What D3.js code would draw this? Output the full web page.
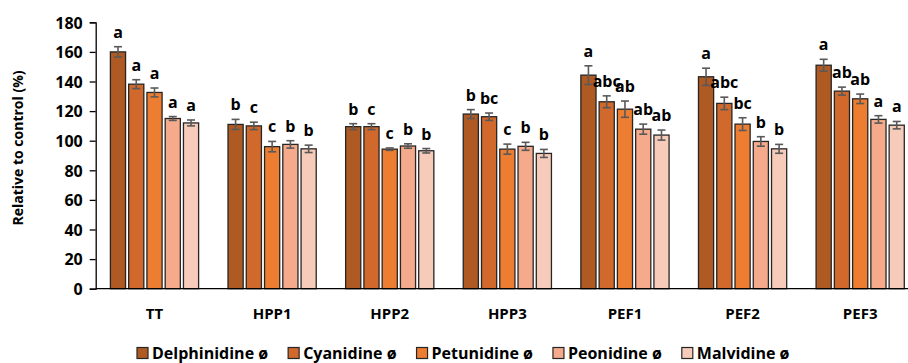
<!DOCTYPE html>
<html>
<head>
<meta charset="utf-8">
<script src="https://cdn.jsdelivr.net/npm/d3@7"></script>
<style>
  body { margin: 0; background: #fff; }
  text { font-family: "Open Sans", Lato, sans-serif; font-weight: bold; fill: #000; }
</style>
</head>
<body>
<div id="chart"></div>
<script>
//treatments on the x axis
var treatments = ["TT", "HPP1", "HPP2", "HPP3", "PEF1", "PEF2", "PEF3"];

//series names
var series = ["Delphinidine ø", "Cyanidine ø", "Petunidine ø", "Peonidine ø", "Malvidine ø"];
var colors = ["#ae5a22", "#d0692b", "#ed7d31", "#f4aa8b", "#f7cbb9"];

//values per series (one value per treatment)
var delphinidine = [160, 111, 109.5, 118, 144.3, 143.2, 151];
var cyanidine = [138.2, 110, 109.5, 116.2, 126.3, 125.2, 133.5];
var petunidine = [132.6, 96, 94.3, 94.3, 121.3, 111.2, 128.3];
var peonidine = [115, 97.5, 96.4, 96.2, 107.8, 99.5, 114.4];
var malvidine = [112, 94.5, 93.2, 91.4, 103.8, 94.5, 110.5];

//error bars
var errDelphinidine = [3.5, 3.4, 2, 3, 6.3, 5.8, 4];
var errCyanidine = [3, 2.5, 2, 2.5, 4, 4.2, 2.7];
var errPetunidine = [3, 3.5, 0.8, 3.4, 5.5, 4.3, 3.2];
var errPeonidine = [1.3, 2.5, 1.5, 2.7, 3.4, 3.2, 2.5];
var errMalvidine = [2, 2.5, 1.5, 2.7, 3.4, 3, 2.5];

//significance letters
var lblDelphinidine = ["a", "b", "b", "b", "a", "a", "a"];
var lblCyanidine = ["a", "c", "c", "bc", "abc", "abc", "ab"];
var lblPetunidine = ["a", "c", "c", "c", "ab", "bc", "ab"];
var lblPeonidine = ["a", "b", "b", "b", "ab", "b", "a"];
var lblMalvidine = ["a", "b", "b", "b", "ab", "b", "a"];

//y ticks
var yTicks = [0, 20, 40, 60, 80, 100, 120, 140, 160, 180];

var values = [delphinidine, cyanidine, petunidine, peonidine, malvidine];
var errors = [errDelphinidine, errCyanidine, errPetunidine, errPeonidine, errMalvidine];
var letters = [lblDelphinidine, lblCyanidine, lblPetunidine, lblPeonidine, lblMalvidine];

//build flat table for the bars
var dataBars = [];
treatments.forEach(function(t, i) {
  series.forEach(function(s, j) {
    dataBars.push({ treatment: t, serie: s, value: values[j][i], err: errors[j][i], label: letters[j][i], idx: j });
  });
});

var width = 908, height = 363;
var svg = d3.select("#chart").append("svg").attr("width", width).attr("height", height);

var x0 = d3.scaleBand().domain(treatments).range([95.7, 919]).paddingInner(0.25).paddingOuter(0.125);
var x1 = d3.scaleBand().domain(series).range([0, x0.bandwidth()]).paddingInner(0.17);
var y = d3.scaleLinear().domain([0, 180]).range([288.7, 22.3]);

//y axis
var yAxis = d3.axisLeft(y).tickValues(yTicks).tickSize(6).tickPadding(7);
var gy = svg.append("g").attr("transform", "translate(95.7,0)").call(yAxis);
gy.selectAll("text").style("font-size", "16px").attr("dy", "0.36em");
gy.selectAll("line").attr("stroke", "#000").attr("stroke-width", 1.3);
gy.select(".domain").attr("stroke", "#000").attr("stroke-width", 1.3);

//bars
svg.selectAll(".bar")
  .data(dataBars)
  .enter()
  .append("rect")
  .attr("class", "bar")
  .attr("x", function(d) { return x0(d.treatment) + x1(d.serie); })
  .attr("y", function(d) { return y(d.value); })
  .attr("width", x1.bandwidth())
  .attr("height", function(d) { return y(0) - y(d.value); })
  .attr("fill", function(d) { return colors[d.idx]; })
  .attr("stroke", "#262626")
  .attr("stroke-width", 1.3);

//x axis line
svg.append("line")
  .attr("x1", 95.7).attr("x2", width)
  .attr("y1", y(0)).attr("y2", y(0))
  .attr("stroke", "#000").attr("stroke-width", 1.3);

//error bars
var errG = svg.selectAll(".err").data(dataBars).enter().append("g").attr("class", "err")
  .attr("transform", function(d) { return "translate(" + (x0(d.treatment) + x1(d.serie) + x1.bandwidth() / 2) + ",0)"; });
errG.append("line")
  .attr("y1", function(d) { return y(d.value - d.err); })
  .attr("y2", function(d) { return y(d.value + d.err); });
errG.append("line")
  .attr("x1", -4).attr("x2", 4)
  .attr("y1", function(d) { return y(d.value + d.err); })
  .attr("y2", function(d) { return y(d.value + d.err); });
errG.append("line")
  .attr("x1", -4).attr("x2", 4)
  .attr("y1", function(d) { return y(d.value - d.err); })
  .attr("y2", function(d) { return y(d.value - d.err); });
errG.selectAll("line").attr("stroke", "#595959").attr("stroke-width", 1.6);

//letters
svg.selectAll(".lbl")
  .data(dataBars)
  .enter()
  .append("text")
  .attr("class", "lbl")
  .attr("x", function(d) { return x0(d.treatment) + x1(d.serie) + x1.bandwidth() / 2; })
  .attr("y", function(d) { return y(d.value + d.err) - 9; })
  .attr("text-anchor", "middle")
  .style("font-size", "16px")
  .text(function(d) { return d.label; });

//category labels
svg.selectAll(".cat")
  .data(treatments)
  .enter()
  .append("text")
  .attr("class", "cat")
  .attr("x", function(d) { return x0(d) + x0.bandwidth() / 2; })
  .attr("y", 319)
  .attr("text-anchor", "middle")
  .style("font-size", "15px")
  .text(function(d) { return d; });

//y axis title
svg.append("text")
  .attr("transform", "translate(23,148) rotate(-90)")
  .attr("text-anchor", "middle")
  .style("font-size", "14px")
  .text("Relative to control (%)");

//legend
var legend = svg.append("g").attr("class", "legend");
var lx = 137;
series.forEach(function(s, j) {
  var item = legend.append("g").attr("transform", "translate(" + lx + ",0)");
  item.append("rect")
    .attr("x", 0).attr("y", 347.5)
    .attr("width", 11).attr("height", 11)
    .attr("fill", colors[j])
    .attr("stroke", "#262626")
    .attr("stroke-width", 1.2);
  var t = item.append("text")
    .attr("x", 15).attr("y", 358.5)
    .style("font-size", "16px")
    .text(s);
  lx += 15 + t.node().getComputedTextLength() + 20;
});
</script>
</body>
</html>
